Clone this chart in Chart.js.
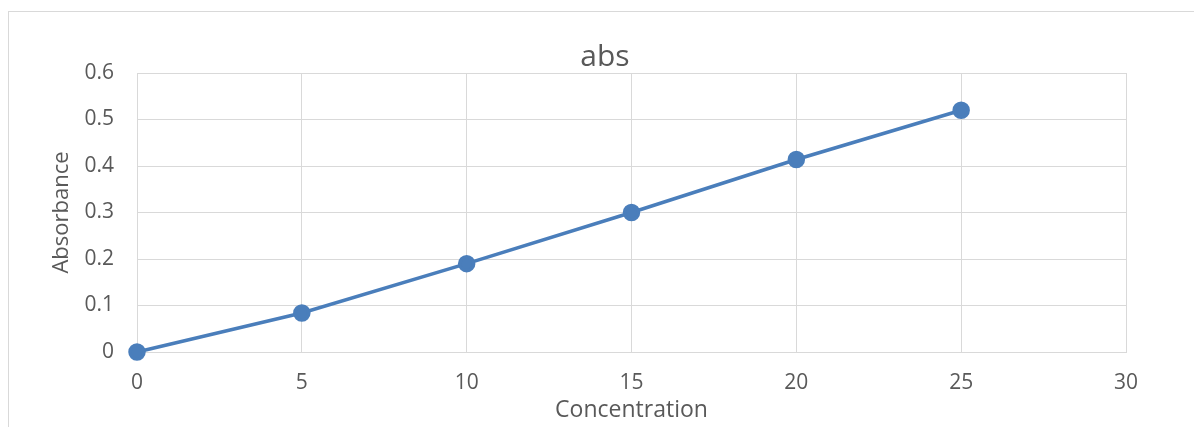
<!DOCTYPE html>
<html>
<head>
<meta charset="utf-8">
<script src="https://cdn.jsdelivr.net/npm/chart.js@4/dist/chart.umd.min.js"></script>
<style>
  html, body { margin: 0; padding: 0; background: #fff; overflow: hidden; }
  #frame { position: absolute; left: 8px; top: 11px; width: 1400px; height: 600px; border: 1px solid #d9d9d9; }
  #wrap { position: absolute; left: 0; top: 0; width: 1194px; height: 427px; }
</style>
</head>
<body>
<div id="frame"></div>
<div id="wrap"><canvas id="myChart" width="1194" height="427"></canvas></div>
<script>
// values
const concentration = [0, 5, 10, 15, 20, 25];
const absorbance = [0, 0.084, 0.19, 0.3, 0.414, 0.52];
const xTicks = [0, 5, 10, 15, 20, 25, 30];
const yTicks = [0, 0.1, 0.2, 0.3, 0.4, 0.5, 0.6];

const textColor = '#595959';
const gridColor = '#d9d9d9';
const fontFamily = '"Open Sans", "Liberation Sans", sans-serif';

const points = concentration.map((c, i) => ({ x: c, y: absorbance[i] }));

new Chart(document.getElementById('myChart'), {
    type: 'scatter',
    data: {
        datasets: [
            {
                label: 'abs',
                data: points,
                showLine: true,
                borderColor: '#4a7ebb',
                backgroundColor: '#4a7ebb',
                borderWidth: 3.5,
                pointRadius: 7,
                pointHoverRadius: 7,
                clip: false,
            },
        ],
    },
    options: {
        responsive: false,
        animation: false,
        // left padding shifts the title centre to match the original
        layout: { padding: { left: 84, right: 68, top: 0, bottom: 0 } },
        plugins: {
            legend: { display: false },
            tooltip: { enabled: false },
            title: {
                display: true,
                text: 'abs',
                color: textColor,
                font: { family: fontFamily, size: 30, weight: 'normal', lineHeight: 1 },
                padding: { top: 42, bottom: 1 },
            },
        },
        scales: {
            x: {
                type: 'linear',
                min: 0,
                max: 30,
                afterFit: (scale) => { scale.height = 75; },
                afterBuildTicks: (scale) => { scale.ticks = xTicks.map(v => ({ value: v })); },
                ticks: { color: textColor, padding: 18, font: { family: fontFamily, size: 21 } },
                grid: { color: gridColor, lineWidth: 1, drawTicks: false },
                border: { color: gridColor, width: 1 },
                title: {
                    display: true,
                    text: 'Concentration',
                    color: textColor,
                    font: { family: fontFamily, size: 23 },
                    padding: { top: 0, bottom: 3 },
                },
            },
            y: {
                type: 'linear',
                min: 0,
                max: 0.6,
                afterFit: (scale) => { scale.width = 53; },
                afterBuildTicks: (scale) => { scale.ticks = yTicks.map(v => ({ value: v })); },
                ticks: { color: textColor, padding: 23, font: { family: fontFamily, size: 21 } },
                grid: { color: gridColor, lineWidth: 1, drawTicks: false },
                border: { color: gridColor, width: 1 },
                title: {
                    display: true,
                    text: 'Absorbance',
                    color: textColor,
                    font: { family: fontFamily, size: 22 },
                    padding: { top: -35, bottom: 0 },
                },
            },
        },
    },
});
</script>
</body>
</html>
